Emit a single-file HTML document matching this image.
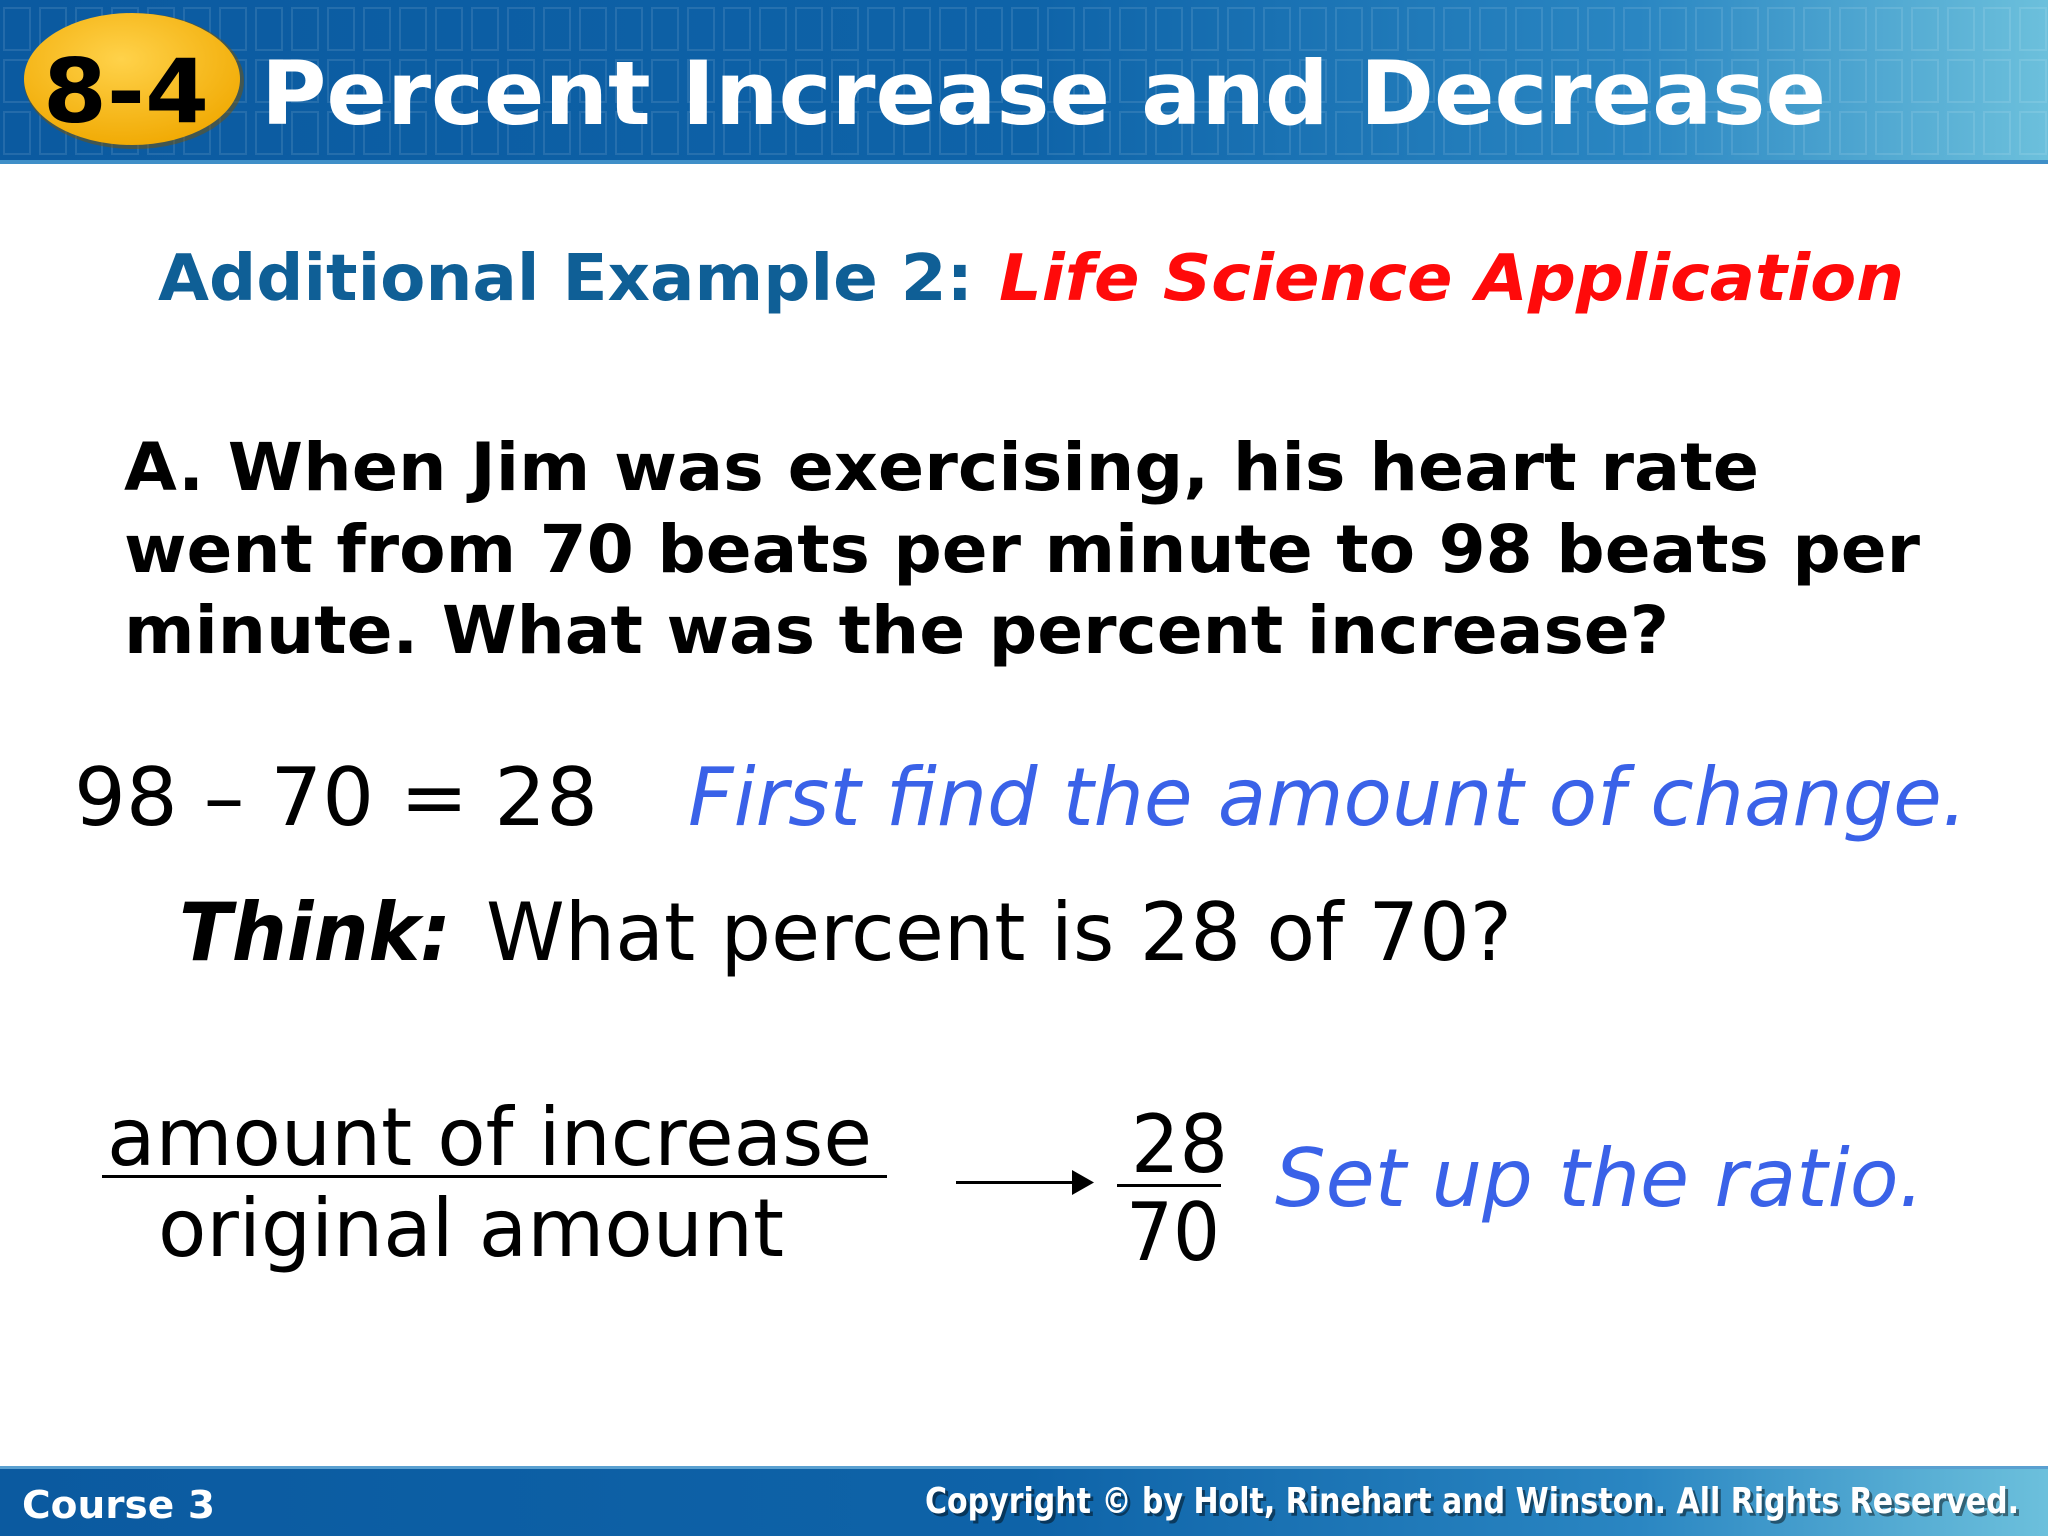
<!DOCTYPE html>
<html><head><meta charset="utf-8"><style>
html,body{margin:0;padding:0;background:#fff}
svg{display:block}
</style></head><body>
<svg width="2048" height="1536" viewBox="0 0 2048 1536" xmlns="http://www.w3.org/2000/svg" font-family="'DejaVu Sans','Liberation Sans',sans-serif">
<defs>
<linearGradient id="hg" x1="0" x2="1" y1="0" y2="0">
<stop offset="0" stop-color="#0b5aa0"/><stop offset="0.5" stop-color="#0e63a8"/><stop offset="0.8" stop-color="#2a86c2"/><stop offset="1" stop-color="#6cc0dc"/>
</linearGradient>
<radialGradient id="bg" cx="0.45" cy="0.35" r="0.7">
<stop offset="0" stop-color="#ffd24a"/><stop offset="1" stop-color="#f0a800"/>
</radialGradient>
<pattern id="grid" width="36" height="52" patternUnits="userSpaceOnUse" x="0" y="4">
<rect x="4" y="4" width="26" height="42" fill="none" stroke="#ffffff" stroke-opacity="0.10" stroke-width="2"/>
</pattern>
</defs>
<g>
<rect x="0" y="0" width="2048" height="163" fill="url(#hg)"/>
<rect x="0" y="0" width="2048" height="163" fill="url(#grid)"/>
<rect x="0" y="160" width="2048" height="4" fill="#3f8fc8"/>
</g>
<g>
<ellipse cx="134" cy="81" rx="110" ry="68" fill="#7a5200" opacity="0.5"/>
<ellipse cx="132" cy="79" rx="108" ry="66" fill="url(#bg)"/>
<text x="43" y="122" font-size="88" font-weight="bold" fill="#000" textLength="166" lengthAdjust="spacingAndGlyphs">8-4</text>
</g>
<text x="261" y="124" font-size="88" font-weight="bold" fill="#fff" textLength="1565" lengthAdjust="spacingAndGlyphs">Percent Increase and Decrease</text>

<text x="158" y="300" font-size="64" font-weight="bold" fill="#0f5f96" textLength="815" lengthAdjust="spacingAndGlyphs">Additional Example 2:</text>
<text x="999" y="300" font-size="64" font-weight="bold" font-style="italic" fill="#ff0a0a" textLength="905" lengthAdjust="spacingAndGlyphs">Life Science Application</text>

<g font-size="66" font-weight="bold" fill="#000">
<text x="124" y="490" textLength="1635" lengthAdjust="spacingAndGlyphs">A. When Jim was exercising, his heart rate</text>
<text x="124" y="572" textLength="1796" lengthAdjust="spacingAndGlyphs">went from 70 beats per minute to 98 beats per</text>
<text x="124" y="653" textLength="1545" lengthAdjust="spacingAndGlyphs">minute. What was the percent increase?</text>
</g>

<text x="74" y="825" font-size="80" fill="#000" textLength="524" lengthAdjust="spacingAndGlyphs">98 – 70 = 28</text>
<text x="688" y="825" font-size="80" font-style="italic" fill="#3a62e8" textLength="1279" lengthAdjust="spacingAndGlyphs">First find the amount of change.</text>

<text x="179" y="960" font-size="80" font-weight="bold" font-style="italic" fill="#000" textLength="272" lengthAdjust="spacingAndGlyphs">Think:</text>
<text x="486" y="960" font-size="80" fill="#000" textLength="1026" lengthAdjust="spacingAndGlyphs">What percent is 28 of 70?</text>

<g font-size="80" fill="#000">
<text x="107" y="1165" textLength="765" lengthAdjust="spacingAndGlyphs">amount of increase</text>
<rect x="102" y="1175" width="785" height="3" fill="#000"/>
<text x="158" y="1256" textLength="626" lengthAdjust="spacingAndGlyphs">original amount</text>
</g>
<g>
<rect x="956" y="1181" width="120" height="3" fill="#000"/>
<polygon points="1072,1170 1094,1182.5 1072,1195" fill="#000"/>
</g>
<g font-size="80" fill="#000">
<text x="1131" y="1172" textLength="97" lengthAdjust="spacingAndGlyphs">28</text>
<rect x="1117" y="1184" width="104" height="3" fill="#000"/>
<text x="1126" y="1260" textLength="94" lengthAdjust="spacingAndGlyphs">70</text>
</g>
<text x="1275" y="1206" font-size="80" font-style="italic" fill="#3a62e8" textLength="649" lengthAdjust="spacingAndGlyphs">Set up the ratio.</text>

<g>
<rect x="0" y="1467" width="2048" height="69" fill="url(#hg)"/>
<rect x="0" y="1466" width="2048" height="3" fill="#5aa0d0"/>
<text x="22" y="1518" font-size="38" font-weight="bold" fill="#fff" textLength="193" lengthAdjust="spacingAndGlyphs">Course 3</text>
<text x="928" y="1516" font-size="36" font-weight="bold" fill="#000" opacity="0.45" textLength="1094" lengthAdjust="spacingAndGlyphs">Copyright © by Holt, Rinehart and Winston. All Rights Reserved.</text>
<text x="925" y="1513" font-size="36" font-weight="bold" fill="#fff" textLength="1094" lengthAdjust="spacingAndGlyphs">Copyright © by Holt, Rinehart and Winston. All Rights Reserved.</text>
</g>
</svg>
</body></html>
